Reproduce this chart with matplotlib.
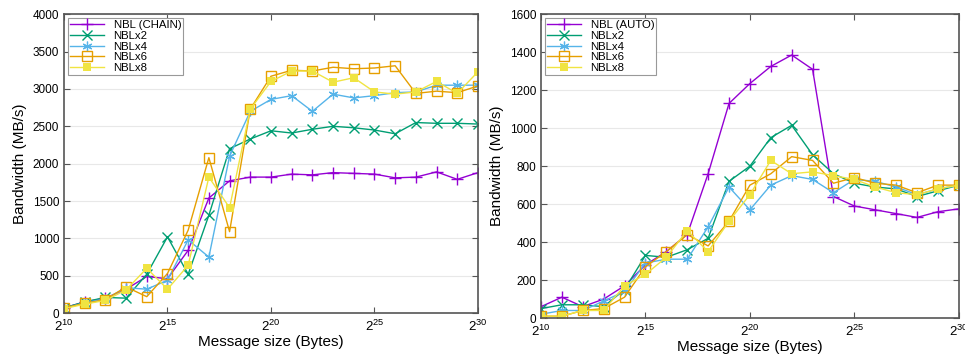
import matplotlib
matplotlib.use("Agg")
import matplotlib.pyplot as plt

plt.rcParams['font.family'] = ['Liberation Sans', 'DejaVu Sans']
plt.rcParams['mathtext.fontset'] = 'custom'
plt.rcParams['mathtext.rm'] = 'Liberation Sans'
plt.rcParams['mathtext.it'] = 'Liberation Sans'

# message size exponents (2^10 .. 2^30)
exps = list(range(10, 31))

# left panel: NBL (CHAIN)
chain = [70, 150, 200, 320, 490, 460, 840, 1540, 1770, 1820, 1820, 1860, 1850, 1880, 1870, 1860, 1810, 1820, 1890, 1790, 1880]
left_x2 = [70, 150, 210, 200, 520, 1020, 520, 1310, 2200, 2330, 2440, 2410, 2460, 2500, 2480, 2450, 2400, 2550, 2540, 2540, 2530]
left_x4 = [60, 140, 190, 340, 320, 440, 980, 750, 2100, 2700, 2860, 2910, 2700, 2930, 2880, 2910, 2950, 2960, 3050, 3050, 3050]
left_x6 = [70, 130, 180, 350, 220, 530, 1110, 2080, 1090, 2730, 3170, 3250, 3240, 3290, 3270, 3280, 3310, 2940, 2970, 2950, 3040]
left_x8 = [60, 120, 170, 310, 600, 320, 640, 1820, 1410, 2730, 3100, 3240, 3240, 3090, 3150, 2960, 2930, 2960, 3100, 2940, 3230]

# right panel: NBL (AUTO)
auto = [60, 110, 60, 100, 170, 280, 350, 440, 760, 1130, 1235, 1325, 1385, 1310, 640, 590, 570, 550, 530, 560, 575]
right_x2 = [50, 70, 70, 60, 150, 330, 320, 360, 420, 720, 800, 950, 1015, 860, 760, 710, 690, 680, 640, 670, 700]
right_x4 = [20, 40, 40, 90, 140, 290, 310, 310, 480, 690, 570, 700, 750, 730, 660, 730, 720, 690, 650, 680, 700]
right_x6 = [10, 10, 40, 50, 110, 270, 350, 440, 380, 510, 700, 760, 850, 830, 710, 740, 710, 700, 660, 700, 700]
right_x8 = [10, 10, 40, 40, 170, 230, 320, 460, 350, 510, 650, 830, 760, 770, 750, 730, 690, 660, 650, 680, 700]

colors = ['#9400D3', '#009E73', '#56B4E9', '#E69F00', '#F0E442']
markers = [dict(marker='+', ms=8, mew=1.0),
           dict(marker='x', ms=6.5, mew=1.0),
           dict(marker=(6, 2, 0), ms=7, mew=0.9),
           dict(marker='s', ms=6.5, mfc='none', mew=1.0),
           dict(marker='s', ms=6, mew=0)]


def draw(ax, series, labels, ymax, ystep):
    for vals, lab, c, m in zip(series, labels, colors, markers):
        mk = dict(m)
        if mk.get('mfc') is None and mk['marker'] == 's':
            mk['mfc'] = c
        ax.plot(exps, vals, color=c, lw=1.0, label=lab, mec=c, **mk)
    ax.set_xlim(10, 30)
    ax.set_ylim(0, ymax)
    ax.set_xticks([10, 15, 20, 25, 30])
    ax.set_xticklabels([f'$2^{{{e}}}$' for e in [10, 15, 20, 25, 30]])
    ax.set_yticks(range(0, ymax + 1, ystep))
    ax.tick_params(direction='in', top=True, right=True, labelsize=8.5, length=4,
                   color='#555555')
    ax.tick_params(axis='x', pad=4, labelsize=9.5)
    ax.yaxis.grid(True, color='#e8e8e8', lw=0.8, ls='-')
    ax.set_xlabel('Message size (Bytes)', fontsize=11, labelpad=1)
    ax.set_ylabel('Bandwidth (MB/s)', fontsize=11, labelpad=4)
    for s in ax.spines.values():
        s.set_color('#555555')
        s.set_linewidth(1.2)
    leg = ax.legend(loc='upper left', fontsize=8.2, handlelength=3.0,
                    fancybox=False, framealpha=1, edgecolor='#999999',
                    borderpad=0.2, labelspacing=0.05, handletextpad=0.8,
                    borderaxespad=0.35)
    leg.get_frame().set_linewidth(0.8)


fig = plt.figure(figsize=(9.65, 3.55), dpi=100)
ax1 = fig.add_axes([0.0663, 0.118, 0.429, 0.842])
ax2 = fig.add_axes([0.5606, 0.104, 0.433, 0.856])

draw(ax1, [chain, left_x2, left_x4, left_x6, left_x8],
     ['NBL (CHAIN)', 'NBLx2', 'NBLx4', 'NBLx6', 'NBLx8'], 4000, 500)
draw(ax2, [auto, right_x2, right_x4, right_x6, right_x8],
     ['NBL (AUTO)', 'NBLx2', 'NBLx4', 'NBLx6', 'NBLx8'], 1600, 200)

fig.savefig('out.png', dpi=100)
